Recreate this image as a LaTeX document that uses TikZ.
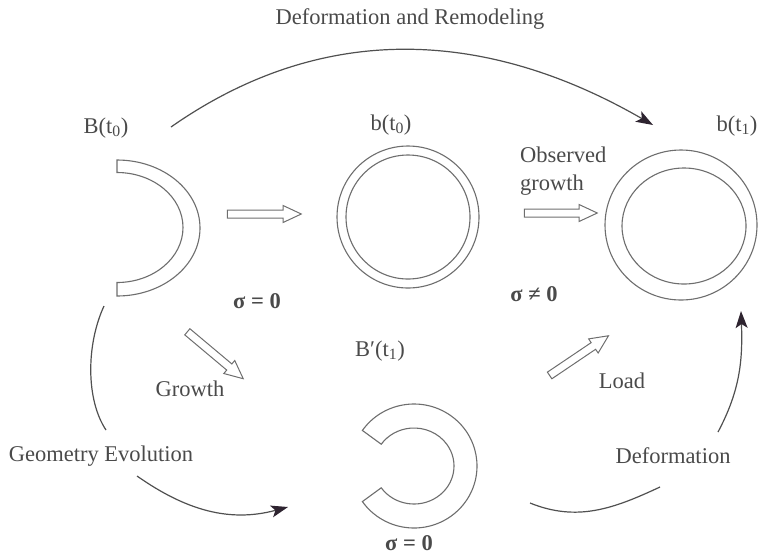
\documentclass[tikz,border=0pt]{standalone}
\usepackage{fontspec}
\setmainfont{Liberation Serif}
\usetikzlibrary{arrows.meta,shapes.arrows}
\definecolor{txt}{HTML}{4A4A4A}
\definecolor{shp}{HTML}{6E6E6E}
\definecolor{lin}{HTML}{505050}
\definecolor{tipc}{HTML}{2E2430}
\begin{document}
\begin{tikzpicture}[x=1pt,y=1pt,
  lbl/.style={text=txt, inner sep=0pt, font=\fontsize{22.5}{28}\selectfont},
  ring/.style={draw=shp, line width=1.1pt, fill=white},
  hollow/.style={single arrow, draw=shp, line width=1pt, inner xsep=0pt, inner ysep=3.5pt,
    minimum width=16pt, single arrow head extend=4.5pt, single arrow tip angle=50, minimum height=#1},
  conn/.style={draw=lin, line width=1.2pt, -{Stealth[length=17pt,width=12pt,inset=4pt,color=tipc]}},
  plain/.style={draw=lin, line width=1.2pt}
]
\useasboundingbox (0,0) rectangle (759,-558);

% labels
\node[lbl] (title) at (410,-19) {Deformation and Remodeling};
\node[lbl] (Bt0) at (106,-128) {B(t\textsubscript{0})};
\node[lbl] (bt0) at (391,-125) {b(t\textsubscript{0})};
\node[lbl] (bt1) at (737,-126) {b(t\textsubscript{1})};
\node[lbl, align=left, anchor=north west] (obs) at (520,-147) {Observed\\growth};
\node[lbl] (s1) at (257,-301) {\textbf{σ = 0}};
\node[lbl] (s2) at (534,-294) {\textbf{σ ≠ 0}};
\node[lbl] (s3) at (409,-543) {\textbf{σ = 0}};
\node[lbl] (Bp) at (380,-351) {B′(t\textsubscript{1})};
\node[lbl] (growth) at (190,-389) {Growth};
\node[lbl] (load) at (622,-381) {Load};
\node[lbl] (geo) at (101,-456) {Geometry Evolution};
\node[lbl] (def) at (673,-456) {Deformation};

% shapes
\coordinate (half) at (117,-228);
\draw[ring] (117,-160) arc[start angle=90, end angle=-90, x radius=83, y radius=68]
  -- (117,-282.5) arc[start angle=-90, end angle=90, x radius=66, y radius=55] -- cycle;

\coordinate (mid) at (408,-217);
\draw[ring] (mid) circle[radius=71];
\draw[ring] (mid) circle[radius=62];

\coordinate (rgt) at (681,-225);
\draw[ring] (rgt) ellipse[x radius=76, y radius=75];
\draw[ring] (684,-226) ellipse[x radius=62, y radius=58];

\coordinate (cring) at (414,-466);
\draw[ring] ([shift={(cring)}]145:63 and 62) arc[start angle=145, end angle=-145, x radius=63, y radius=62]
  -- ([shift={(cring)}]-145:40 and 38) arc[start angle=-145, end angle=145, x radius=40, y radius=38] -- cycle;

% hollow arrows
\node[hollow=74pt] (a1) at (260,-214) {};
\node[hollow=73pt] (a2) at (556.5,-213) {};
\node[hollow=73pt, rotate=-40] (a3) at (212,-352.5) {};
\node[hollow=71pt, rotate=34] (a4) at (575.5,-358) {};

% connectors
\coordinate (c1s) at (171,-127);
\coordinate (c1e) at (653,-125);
\draw[conn] (c1s) to[out=35,in=150] (c1e);

\coordinate (c2s) at (104,-306);
\coordinate (c2e) at (106,-430);
\draw[plain] (c2s) .. controls (86,-345) and (86,-400) .. (c2e);

\coordinate (c3s) at (137,-476);
\coordinate (c3e) at (288,-507);
\draw[conn] (c3s) to[out=-35,in=195] (c3e);

\coordinate (c4s) at (530,-503);
\coordinate (c4e) at (660,-487);
\draw[plain] (c4s) to[out=-22,in=205] (c4e);

\coordinate (c5s) at (718,-432);
\coordinate (c5e) at (741,-311);
\draw[conn] (c5s) to[out=62,in=-88] (c5e);
\end{tikzpicture}
\end{document}
